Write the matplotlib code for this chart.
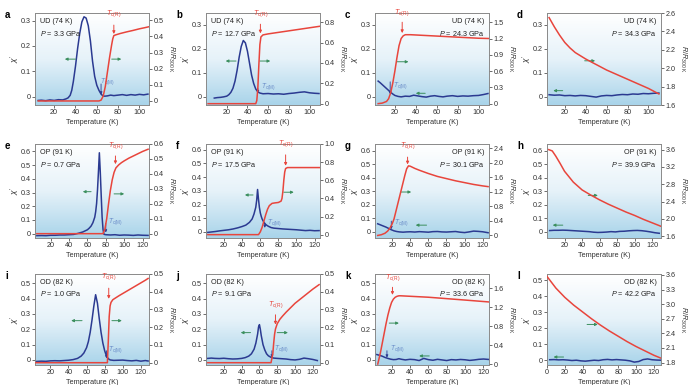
import numpy as np
import matplotlib
matplotlib.use('Agg')
import matplotlib.pyplot as plt
from matplotlib.colors import LinearSegmentedColormap

plt.rcParams['font.family'] = ['Liberation Sans', 'DejaVu Sans']
plt.rcParams['mathtext.fontset'] = 'custom'
plt.rcParams['mathtext.rm'] = 'Liberation Sans'
plt.rcParams['mathtext.it'] = 'Liberation Sans:italic'

# ---------------- data ----------------
a_T_chi = [5,8,12,16,20,24,28,31,33,35,36.5,38,40,42,44,46,48,50,52,54,56,58,60,62,64,66,68,70,73,76,80,84,88,92,96,100,104,108]
a_chi = [-0.015,-0.014,-0.016,-0.013,-0.015,-0.012,-0.013,-0.009,-0.005,0.005,0.025,0.06,0.12,0.19,0.25,0.295,0.315,0.31,0.28,0.22,0.14,0.08,0.045,0.025,0.01,0.002,0.002,0.003,0.006,0.004,0.006,0.008,0.005,0.008,0.006,0.009,0.007,0.01]
a_T_R = [5,62,64,66,68,70,72,74,75,76,78,82,88,94,100,105,109]
a_R = [0.0,0.0,0.005,0.03,0.09,0.18,0.27,0.35,0.385,0.405,0.41,0.418,0.428,0.437,0.447,0.454,0.46]

b_T_chi = [8,11,14,17,20,22,24,26,28,30,32,34,36,38,40,42,44,46,48,50,52,55,60,65,70,75,80,85,90,95,100,105,109]
b_chi = [-0.006,-0.004,-0.003,-0.001,0.002,0.008,0.018,0.035,0.065,0.11,0.165,0.21,0.235,0.225,0.19,0.14,0.09,0.055,0.032,0.02,0.015,0.012,0.013,0.011,0.012,0.01,0.013,0.015,0.018,0.02,0.016,0.014,0.013]
b_T_R = [2,48,49,50,51,52,53,55,60,70,80,90,100,110]
b_R = [0.0,0.0,0.03,0.15,0.38,0.58,0.655,0.675,0.685,0.7,0.715,0.73,0.745,0.76]

c_T_chi = [4,6,8,10,12,14,16,18,20,23,26,30,34,38,42,46,50,54,58,62,66,70,75,80,85,90,95,100,105,109]
c_chi = [0.065,0.058,0.05,0.042,0.034,0.026,0.018,0.011,0.005,0.001,-0.001,0.002,0.001,0.006,0.003,0.0,-0.002,0.002,0.004,0.001,-0.001,0.002,0.004,0.001,0.003,0.002,0.004,0.005,0.009,0.013]
c_T_R = [4,8,12,14,16,18,20,22,24,26,28,30,35,40,50,60,70,80,90,100,110]
c_R = [0.0,0.01,0.04,0.09,0.2,0.38,0.6,0.85,1.07,1.2,1.25,1.27,1.27,1.265,1.255,1.245,1.235,1.225,1.215,1.205,1.2]

d_T_chi = [5,10,15,20,25,30,35,40,45,50,55,60,65,70,75,80,85,90,95,100,105,110]
d_chi = [0.008,0.006,0.007,0.004,0.005,0.003,0.005,0.004,0.001,-0.002,0.003,0.005,0.004,0.007,0.009,0.008,0.011,0.01,0.013,0.012,0.014,0.015]
d_T_R = [5,10,15,20,25,30,40,50,60,70,80,90,100,110]
d_R = [2.55,2.45,2.36,2.28,2.22,2.17,2.1,2.04,1.98,1.93,1.88,1.83,1.78,1.72]

e_T_chi = [5,10,15,20,25,30,35,40,45,50,55,60,62,64,66,68,69,70,71,72,73,74,75,76,77,78,80,85,90,95,100,105,110,115,120,126]
e_chi = [-0.015,-0.014,-0.015,-0.012,-0.012,-0.01,-0.01,-0.008,-0.006,0.002,0.012,0.028,0.04,0.055,0.08,0.12,0.16,0.22,0.32,0.45,0.59,0.45,0.28,0.12,0.03,-0.005,-0.008,-0.01,-0.008,-0.012,-0.01,-0.011,-0.013,-0.01,-0.012,-0.013]
e_T_R = [5,77,79,81,83,85,87,89,91,94,97,100,105,110,115,120,126]
e_R = [0.0,0.0,0.03,0.1,0.2,0.29,0.36,0.41,0.44,0.46,0.475,0.487,0.505,0.52,0.535,0.55,0.565]

f_T_chi = [2,6,10,15,20,25,30,35,40,44,48,51,53,55,56,57,58,59,60,61,62,64,66,68,70,72,75,80,85,90,95,100,105,110,115,120,125]
f_chi = [-0.003,0.0,0.003,0.008,0.012,0.016,0.022,0.03,0.04,0.05,0.07,0.095,0.13,0.18,0.23,0.31,0.24,0.18,0.14,0.115,0.095,0.07,0.055,0.045,0.038,0.032,0.028,0.025,0.022,0.02,0.018,0.016,0.013,0.01,0.012,0.009,0.01]
f_T_R = [2,58,60,62,64,66,68,70,73,76,80,83,84,85,86,87,88,90,100,126]
f_R = [0.0,0.0,0.03,0.08,0.15,0.22,0.28,0.32,0.345,0.35,0.355,0.37,0.4,0.48,0.6,0.69,0.73,0.74,0.74,0.74]

g_T_chi = [4,7,10,13,16,19,22,25,28,32,36,40,45,50,55,60,65,70,75,80,85,90,95,100,105,110,115,120,126]
g_chi = [0.06,0.052,0.044,0.036,0.026,0.016,0.008,0.003,0.0,-0.002,0.0,0.001,-0.001,0.002,0.0,-0.002,0.002,0.003,0.0,-0.001,0.001,0.003,-0.002,-0.005,0.0,0.006,0.004,0.001,-0.006]
g_T_R = [4,8,12,15,18,20,22,25,28,31,34,36,38,40,45,50,60,70,80,90,100,110,120,126]
g_R = [0.0,0.02,0.06,0.12,0.22,0.32,0.45,0.75,1.05,1.35,1.65,1.83,1.91,1.9,1.84,1.79,1.7,1.62,1.56,1.5,1.45,1.4,1.36,1.34]

h_T_chi = [3,8,13,18,23,28,33,38,43,48,53,58,63,68,73,78,83,88,93,98,103,108,113,118,123,128]
h_chi = [0.01,0.012,0.012,0.013,0.012,0.01,0.008,0.006,0.004,0.002,-0.002,-0.004,-0.003,-0.001,0.002,0.0,0.004,0.005,0.008,0.01,0.011,0.009,0.005,0.0,-0.006,-0.01]
h_T_R = [2,6,10,15,20,30,40,50,60,70,80,90,100,110,120,130]
h_R = [3.6,3.57,3.45,3.28,3.1,2.85,2.67,2.55,2.44,2.34,2.25,2.16,2.08,1.99,1.91,1.83]

i_T_chi = [4,10,15,20,25,30,35,40,45,50,54,57,60,62,64,66,68,70,72,74,76,78,80,82,84,86,90,95,100,105,110,115,120,125,128]
i_chi = [-0.01,-0.008,-0.009,-0.006,-0.005,-0.006,-0.004,-0.002,0.002,0.01,0.025,0.045,0.08,0.12,0.18,0.26,0.35,0.425,0.37,0.27,0.18,0.11,0.06,0.025,0.008,0.0,-0.003,-0.002,-0.001,-0.004,-0.006,-0.003,-0.008,-0.004,-0.007]
i_T_R = [4,83,84,85,86,87,89,92,96,100,105,110,115,120,125,128]
i_R = [0.0,0.0,0.12,0.26,0.32,0.34,0.355,0.365,0.378,0.39,0.405,0.42,0.435,0.45,0.465,0.475]

j_T_chi = [2,6,10,15,20,25,30,35,40,44,48,51,54,56,58,59,60,61,62,64,66,68,70,73,76,80,85,90,95,100,105,110,115,120,125]
j_chi = [0.01,0.012,0.01,0.009,0.011,0.008,0.006,0.007,0.01,0.015,0.025,0.04,0.07,0.11,0.17,0.215,0.23,0.2,0.16,0.1,0.065,0.04,0.027,0.017,0.012,0.01,0.008,0.006,0.002,0.0,0.004,0.012,0.008,0.003,-0.004]
j_T_R = [2,73,75,76,77,78,80,83,86,90,95,100,105,110,115,120,127]
j_R = [0.0,0.0,0.05,0.11,0.16,0.19,0.22,0.245,0.263,0.285,0.31,0.335,0.355,0.375,0.395,0.415,0.44]

k_T_chi = [4,7,10,13,16,19,22,25,28,31,35,40,45,50,55,60,65,70,75,80,85,90,95,100,105,110,115,120,126]
k_chi = [0.035,0.03,0.024,0.016,0.01,0.005,0.002,0.003,0.008,0.004,0.0,0.004,0.002,-0.004,0.01,0.002,-0.002,0.004,0.0,-0.004,0.002,0.0,0.003,0.001,-0.003,0.0,0.004,0.006,0.003]
k_T_R = [5,6,8,10,12,14,16,18,20,22,24,26,28,30,40,60,80,100,126]
k_R = [0.0,0.08,0.25,0.45,0.65,0.85,1.03,1.18,1.3,1.37,1.41,1.43,1.44,1.44,1.43,1.41,1.38,1.35,1.31]

l_T_chi = [3,8,13,18,23,28,33,38,43,48,53,58,63,68,73,78,83,88,93,98,103,108,113,118,123,128]
l_chi = [0.003,0.004,0.002,0.003,0.001,-0.002,0.0,-0.004,-0.006,-0.003,0.0,-0.002,0.003,0.005,0.002,0.004,0.002,0.0,-0.004,-0.012,-0.008,0.004,0.008,0.003,0.001,0.0]
l_T_R = [0,5,10,20,30,40,50,60,70,80,90,100,110,120,128]
l_R = [3.57,3.45,3.33,3.14,2.98,2.84,2.7,2.57,2.45,2.34,2.23,2.13,2.04,1.95,1.89]

letters = ['a','b','c','d','e','f','g','h','i','j','k','l']
samples = ['UD (74 K)']*4 + ['OP (91 K)']*4 + ['OD (82 K)']*4
pressures = ['3.3','12.7','24.3','34.3','0.7','17.5','30.1','39.9','1.0','9.1','33.6','42.2']

# ---------------- styling / layout ----------------
BLUE = '#2b3a91'
RED = '#e8453c'
GREEN = '#3b8f5e'
TCM = '#6a8cc8'

fig = plt.figure(figsize=(6.96, 3.85), dpi=100)
W, H = 696, 385
col_left = [35, 206, 375, 547]
col_w = 114
rows = [(13, 105), (144, 238), (274, 365)]

grad_cmap = LinearSegmentedColormap.from_list('bg', ['#ffffff', '#e6f2f9', '#a9d4ea'])
grad = np.linspace(0, 1, 100).reshape(-1, 1)

panels = {
    'a': dict(Tc=a_T_chi, c=a_chi, Tr=a_T_R, r=a_R, xlim=(2,109), xt=[20,40,60,80,100],
              yl=(-0.033,0.33), ylt=[0,0.1,0.2,0.3], yr=(-0.025,0.545), yrt=[0,0.1,0.2,0.3,0.4,0.5],
              loc='left', tcr=(76,0.47,0.415,0.51), tcm=(64,0.05,0.008,63,0.058),
              gl=(40,30,0.148), gr=(74,83,0.148)),
    'b': dict(Tc=b_T_chi, c=b_chi, Tr=b_T_R, r=b_R, xlim=(0,110), xt=[20,40,60,80,100],
              yl=(-0.035,0.35), ylt=[0,0.1,0.2,0.3], yr=(-0.013,0.89), yrt=[0,0.2,0.4,0.6,0.8],
              loc='left', tcr=(52.5,0.78,0.69,0.83), tcm=(50,0.035,0.015,53,0.04),
              gl=(29,19,0.149), gr=(52,62,0.149)),
    'c': dict(Tc=c_T_chi, c=c_chi, Tr=c_T_R, r=c_R, xlim=(1,110), xt=[20,40,60,80,100],
              yl=(-0.035,0.35), ylt=[0,0.1,0.2,0.3], yr=(-0.025,1.67), yrt=[0,0.3,0.6,0.9,1.2,1.5],
              loc='right', tcr=(27,1.5,1.3,1.58), tcm=(15.5,0.062,0.01,18,0.045),
              gl=(49,40,0.014), gr=(22,33,0.146)),
    'd': dict(Tc=d_T_chi, c=d_chi, Tr=d_T_R, r=d_R, xlim=(3,112), xt=[20,40,60,80,100],
              yl=(-0.035,0.35), ylt=[0,0.1,0.2,0.3], yr=(1.6,2.6), yrt=[1.6,1.8,2.0,2.2,2.4,2.6],
              loc='right', tcr=None, tcm=None,
              gl=(18,9,0.025), gr=(39,49,0.15)),
    'e': dict(Tc=e_T_chi, c=e_chi, Tr=e_T_R, r=e_R, xlim=(3,127), xt=[20,40,60,80,100,120],
              yl=(-0.032,0.654), ylt=[0,0.1,0.2,0.3,0.4,0.5,0.6], yr=(-0.029,0.6), yrt=[0,0.1,0.2,0.3,0.4,0.5,0.6],
              loc='left', tcr=(90.5,0.52,0.465,0.555), tcm=(80,0.075,0.008,82,0.085),
              gl=(64,55,0.306), gr=(89,100,0.29)),
    'f': dict(Tc=f_T_chi, c=f_chi, Tr=f_T_R, r=f_R, xlim=(0,126), xt=[20,40,60,80,100,120],
              yl=(-0.044,0.642), ylt=[0,0.1,0.2,0.3,0.4,0.5,0.6], yr=(-0.037,1.0), yrt=[0,0.2,0.4,0.6,0.8,1.0],
              loc='left', tcr=(88,0.88,0.76,0.94), tcm=(65,0.065,0.03,67,0.07),
              gl=(52,43,0.27), gr=(86,97,0.29)),
    'g': dict(Tc=g_T_chi, c=g_chi, Tr=g_T_R, r=g_R, xlim=(1,127), xt=[20,40,60,80,100,120],
              yl=(-0.045,0.65), ylt=[0,0.1,0.2,0.3,0.4,0.5,0.6], yr=(-0.07,2.51), yrt=[0,0.4,0.8,1.2,1.6,2.0,2.4],
              loc='right', tcr=(37,2.15,1.95,2.31), tcm=(19,0.08,0.02,22,0.07),
              gl=(58,46,0.05), gr=(30,41,0.295)),
    'h': dict(Tc=h_T_chi, c=h_chi, Tr=h_T_R, r=h_R, xlim=(0,130), xt=[20,40,60,80,100,120],
              yl=(-0.045,0.65), ylt=[0,0.1,0.2,0.3,0.4,0.5,0.6], yr=(1.56,3.73), yrt=[1.6,2.0,2.4,2.8,3.2,3.6],
              loc='right', tcr=None, tcm=None,
              gl=(18,6.5,0.05), gr=(47,58,0.27)),
    'i': dict(Tc=i_T_chi, c=i_chi, Tr=i_T_R, r=i_R, xlim=(3,129), xt=[20,40,60,80,100,120],
              yl=(-0.033,0.56), ylt=[0,0.1,0.2,0.3,0.4,0.5], yr=(-0.013,0.5), yrt=[0,0.1,0.2,0.3,0.4,0.5],
              loc='left', tcr=(84.5,0.42,0.36,0.455), tcm=(82,0.06,0.01,84,0.065),
              gl=(55,43,0.256), gr=(88,99,0.256)),
    'j': dict(Tc=j_T_chi, c=j_chi, Tr=j_T_R, r=j_R, xlim=(0,128), xt=[20,40,60,80,100,120],
              yl=(-0.033,0.56), ylt=[0,0.1,0.2,0.3,0.4,0.5], yr=(-0.013,0.5), yrt=[0,0.1,0.2,0.3,0.4,0.5],
              loc='left', tcr=(78,0.27,0.215,0.297), tcm=(74,0.06,0.015,76,0.076),
              gl=(50,39,0.178), gr=(80,92,0.178)),
    'k': dict(Tc=k_T_chi, c=k_chi, Tr=k_T_R, r=k_R, xlim=(2,126), xt=[20,40,60,80,100,120],
              yl=(-0.033,0.56), ylt=[0,0.1,0.2,0.3,0.4,0.5], yr=(-0.02,1.9), yrt=[0,0.4,0.8,1.2,1.6],
              loc='right', tcr=(21,1.62,1.46,1.7), tcm=(15,0.06,0.015,18,0.075),
              gl=(61,50,0.026), gr=(17.5,28,0.24)),
    'l': dict(Tc=l_T_chi, c=l_chi, Tr=l_T_R, r=l_R, xlim=(0,128), xt=[0,20,40,60,80,100,120],
              yl=(-0.03,0.54), ylt=[0,0.1,0.2,0.3,0.4,0.5], yr=(1.75,3.62), yrt=[1.8,2.1,2.4,2.7,3.0,3.3,3.6],
              loc='right', tcr=None, tcm=None,
              gl=(18.6,7.4,0.02), gr=(45,57,0.224)),
}

FS = 5.2

def fmt(v):
    if abs(v) < 1e-9:
        return '0'
    return ('%.1f' % v)

for idx, let in enumerate(letters):
    p = panels[let]
    r_i, c_i = divmod(idx, 4)
    top, bot = rows[r_i]
    x0 = col_left[c_i]
    ax = fig.add_axes([x0 / W, 1 - bot / H, col_w / W, (bot - top) / H])
    ax.imshow(grad, extent=[0, 1, 0, 1], transform=ax.transAxes, aspect='auto',
              cmap=grad_cmap, zorder=0, origin='upper')
    ax.plot(p['Tc'], p['c'], color=BLUE, lw=1.1, zorder=3)
    ax.set_xlim(*p['xlim'])
    ax.set_ylim(*p['yl'])
    ax.set_xticks(p['xt'])
    ax.set_yticks(p['ylt'])
    ax.set_yticklabels([fmt(v) for v in p['ylt']])
    ax2 = ax.twinx()
    ax2.plot(p['Tr'], p['r'], color=RED, lw=1.1, zorder=3)
    ax2.set_ylim(*p['yr'])
    ax2.set_yticks(p['yrt'])
    ax2.set_yticklabels([fmt(v) for v in p['yrt']])
    ax2.set_xlim(*p['xlim'])

    for a in (ax, ax2):
        a.tick_params(labelsize=FS, length=2, width=0.5, pad=1.2, colors='#333333')
        for s in a.spines.values():
            s.set_color('#8a8a8a')
            s.set_linewidth(0.6)

    ax.set_xlabel('Temperature (K)', fontsize=FS, labelpad=1.5, color='#333333')
    ax.set_ylabel(r"$\chi'$", fontsize=FS + 0.8, color='#333333')
    ax.yaxis.set_label_coords(-0.175, 0.5)
    ax.yaxis.label.set_va('center')
    ax2.set_ylabel(r'$R/R_{\rm 300\ K}$', fontsize=FS, rotation=270, color='#333333')
    ax2.yaxis.set_label_coords(1.19, 0.5)
    ax2.yaxis.label.set_va('center')
    ax2.yaxis.label.set_ha('center')

    # sample labels
    if p['loc'] == 'left':
        ax.text(0.04, 0.95, samples[idx], transform=ax.transAxes, fontsize=FS, va='top', ha='left', color='#222222', zorder=5)
        ax.text(0.04, 0.83, r'$P$ = ' + pressures[idx] + ' GPa', transform=ax.transAxes, fontsize=FS, va='top', ha='left', color='#222222', zorder=5)
    else:
        ax.text(0.96, 0.95, samples[idx], transform=ax.transAxes, fontsize=FS, va='top', ha='right', color='#222222', zorder=5)
        ax.text(0.96, 0.83, r'$P$ = ' + pressures[idx] + ' GPa', transform=ax.transAxes, fontsize=FS, va='top', ha='right', color='#222222', zorder=5)

    # panel letter
    fig.text((x0 - 30) / W, 1 - (top - 3) / H, let, fontsize=7, fontweight='bold', va='top', ha='left')

    # green axis arrows
    g0, g1, gy = p['gl']
    ax.annotate('', xy=(g1, gy), xytext=(g0, gy),
                arrowprops=dict(arrowstyle='-|>', color=GREEN, lw=0.7, mutation_scale=4, shrinkA=0, shrinkB=0), zorder=6)
    g0, g1, gy = p['gr']
    ax.annotate('', xy=(g1, gy), xytext=(g0, gy),
                arrowprops=dict(arrowstyle='-|>', color=GREEN, lw=0.7, mutation_scale=4, shrinkA=0, shrinkB=0), zorder=6)

    # Tc(R)
    if p['tcr'] is not None:
        tx, y0, y1, yt = p['tcr']
        ax2.annotate('', xy=(tx, y1), xytext=(tx, y0),
                     arrowprops=dict(arrowstyle='-|>', color=RED, lw=0.7, mutation_scale=4, shrinkA=0, shrinkB=0))
        ax2.text(tx, yt, r'$T_{\rm c(R)}$', color=RED, fontsize=FS, ha='center', va='bottom')
    if p['tcm'] is not None:
        tx, y0, y1, ttx, tty = p['tcm']
        ax.annotate('', xy=(tx, y1), xytext=(tx, y0),
                    arrowprops=dict(arrowstyle='-|>', color=BLUE, lw=0.6, mutation_scale=3.5, shrinkA=0, shrinkB=0), zorder=6)
        ax.text(ttx, tty, r'$T_{\rm c(M)}$', color=TCM, fontsize=FS - 0.4, ha='left', va='center', zorder=6)

fig.savefig('out.png', dpi=100)
